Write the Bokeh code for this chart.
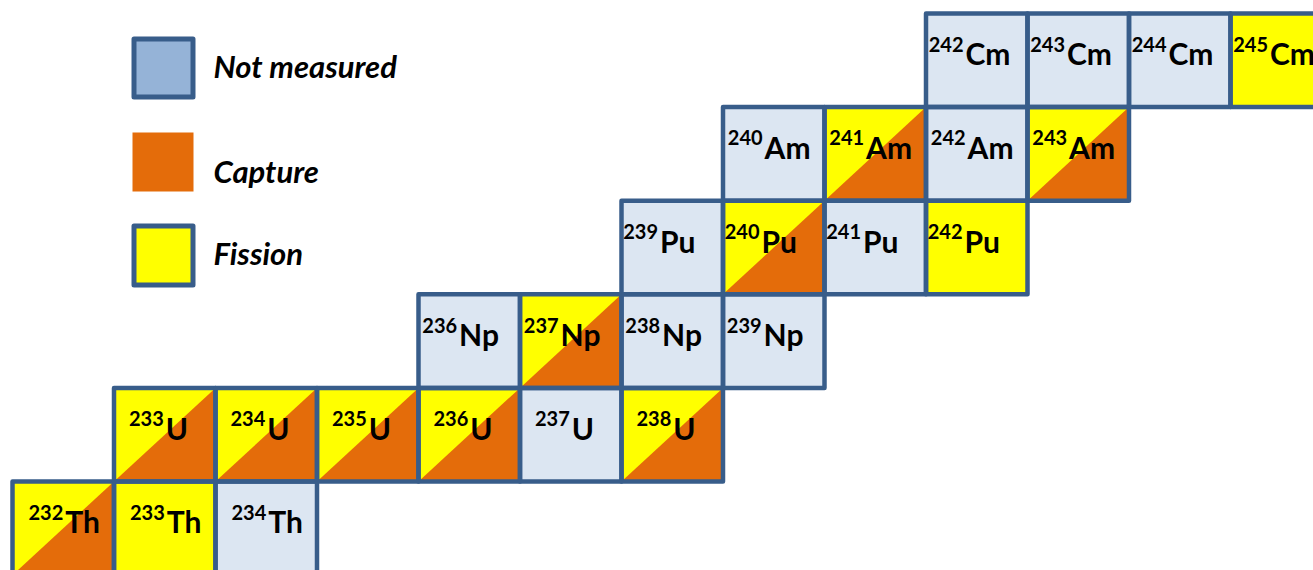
from bokeh.plotting import figure
from bokeh.models import Range1d, ColumnDataSource
from bokeh.core.properties import value
from bokeh.embed import file_html
from bokeh.resources import INLINE

# ---------------- data ----------------
elements = ["Th", "U", "Np", "Pu", "Am", "Cm"]          # row 0 (bottom) .. row 5 (top)
nuc_elem = ["Th", "Th", "Th",
            "U", "U", "U", "U", "U", "U",
            "Np", "Np", "Np", "Np",
            "Pu", "Pu", "Pu", "Pu",
            "Am", "Am", "Am", "Am",
            "Cm", "Cm", "Cm", "Cm"]
nuc_mass = [232, 233, 234,
            233, 234, 235, 236, 237, 238,
            236, 237, 238, 239,
            239, 240, 241, 242,
            240, 241, 242, 243,
            242, 243, 244, 245]
nuc_col = [0, 1, 2,
           1, 2, 3, 4, 5, 6,
           4, 5, 6, 7,
           6, 7, 8, 9,
           7, 8, 9, 10,
           9, 10, 11, 12]
# nm = not measured, f = fission, cf = capture + fission
nuc_kind = ["cf", "f", "nm",
            "cf", "cf", "cf", "cf", "nm", "cf",
            "nm", "cf", "nm", "nm",
            "nm", "cf", "nm", "f",
            "nm", "cf", "nm", "cf",
            "nm", "nm", "nm", "f"]
legend_labels = ["Not measured", "Capture", "Fission"]

# ---------------- style ----------------
BORDER = "#385D8A"
LIGHT = "#DCE6F2"
LEG_BLUE = "#95B3D7"
YELLOW = "#FFFF00"
ORANGE = "#E46C0A"
FONT = "Lato"

# page pixel geometry (cell size and origin in page px)
CW, CH = 101.5, 93.6
X0, Y0 = 12.0, 574.6
OX, OY = 0, 0          # page position of the figure's top-left corner
W, H = 1313, 570


def px2x(sx):
    return (sx - X0) / CW


def px2y(sy):
    return (Y0 - sy) / CH


split = {"Th": 0.51, "U": 0.50, "Np": 0.39, "Pu": 0.37, "Am": 0.40, "Cm": 0.38}

p = figure(width=W, height=H, output_backend="svg", toolbar_location=None,
           x_range=Range1d(px2x(OX), px2x(OX + W)),
           y_range=Range1d(px2y(OY + H), px2y(OY)),
           x_axis_type=None, y_axis_type=None, min_border=0,
           outline_line_color=None, background_fill_color="white",
           border_fill_color="white")
p.grid.visible = False

rows = [elements.index(e) for e in nuc_elem]
fills = [LIGHT if k == "nm" else YELLOW for k in nuc_kind]
src = ColumnDataSource(dict(left=nuc_col, right=[c + 1 for c in nuc_col],
                            bottom=rows, top=[r + 1 for r in rows], fill=fills))
p.quad(left="left", right="right", bottom="bottom", top="top", source=src,
       fill_color="fill", line_color=None)

tx, ty = [], []
for c, r, k in zip(nuc_col, rows, nuc_kind):
    if k == "cf":
        tx.append([c, c + 1, c + 1])
        ty.append([r, r, r + 1])
p.patches(tx, ty, fill_color=ORANGE, line_color=None)

p.quad(left="left", right="right", bottom="bottom", top="top", source=src,
       fill_color=None, line_color=BORDER, line_width=4.5, line_join="round")

# labels
base_dy = 7 / CH      # baseline position relative to cell centre
sup_dy = 9 / CH
lab = ColumnDataSource(dict(
    x=[c + split[e] for c, e in zip(nuc_col, nuc_elem)],
    y=[r + 0.5 + base_dy for r in rows],
    ys=[r + 0.5 + base_dy + sup_dy for r in rows],
    sup=[str(m) for m in nuc_mass],
    el=nuc_elem))
p.text(x="x", y="ys", text="sup", source=lab, text_font=value(FONT),
       text_font_style="bold", text_font_size="20px", text_align="right",
       text_baseline="alphabetic", text_color="black", x_offset=-1)
p.text(x="x", y="y", text="el", source=lab, text_font=value(FONT),
       text_font_style="bold", text_font_size="30px", text_align="left",
       text_baseline="alphabetic", text_color="black", x_offset=1)

# legend
leg_cx = px2x(163)
p.rect(x=[leg_cx], y=[px2y(67.5)], width=59, height=58, width_units="screen",
       height_units="screen", fill_color=LEG_BLUE, line_color=BORDER,
       line_width=5, line_join="round")
p.rect(x=[px2x(162.5)], y=[px2y(161.5)], width=61, height=59, width_units="screen",
       height_units="screen", fill_color=ORANGE, line_color=None)
p.rect(x=[leg_cx], y=[px2y(255)], width=59, height=59, width_units="screen",
       height_units="screen", fill_color=YELLOW, line_color=BORDER,
       line_width=5, line_join="round")
p.text(x=[px2x(213)] * 3, y=[px2y(65), px2y(170), px2y(252.7)], text=legend_labels,
       text_font=value(FONT), text_font_style="bold italic", text_font_size="31px",
       text_align="left", text_baseline="alphabetic", text_color="black")

open("out.html", "w").write(file_html(p, INLINE))
